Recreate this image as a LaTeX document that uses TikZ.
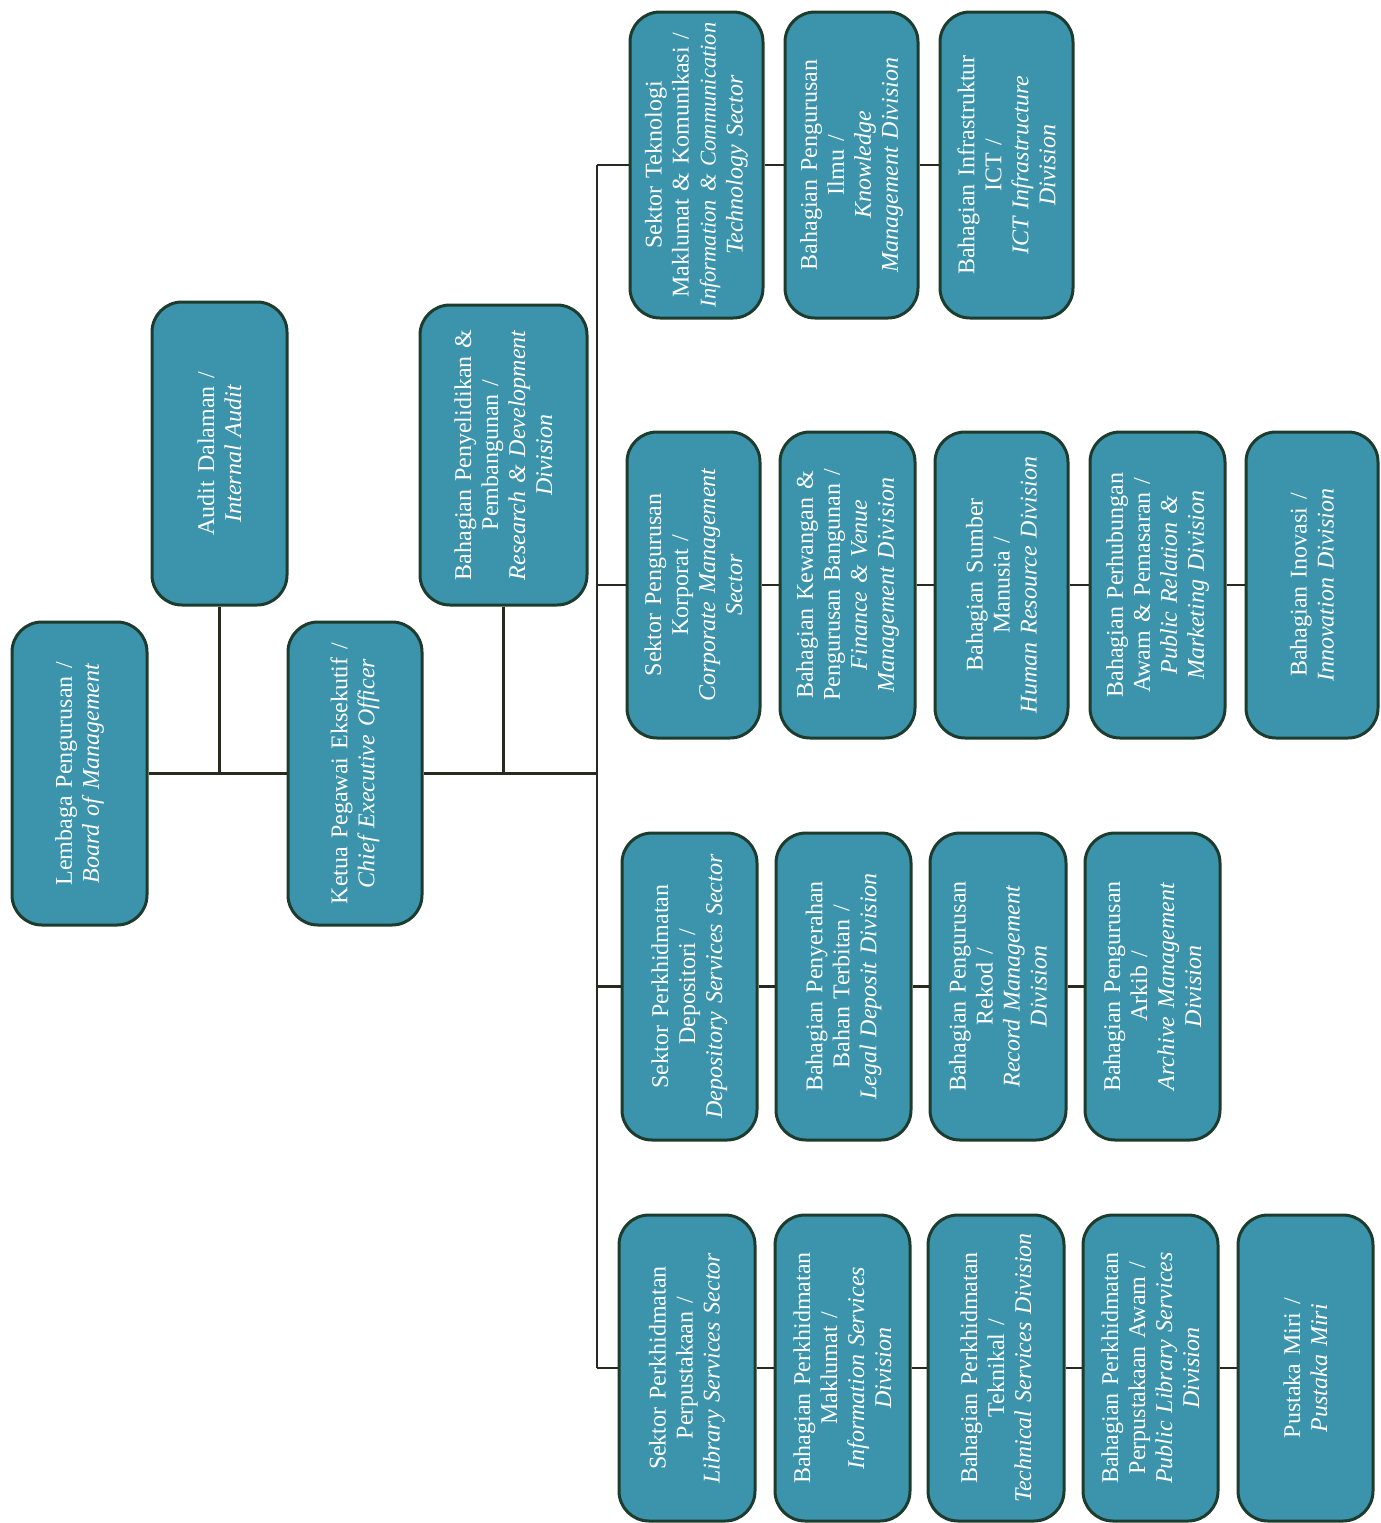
\documentclass[tikz,border=0pt]{standalone}
\usepackage{fontspec}
\setmainfont{Liberation Serif}
\definecolor{tealc}{RGB}{59,147,172}
\definecolor{bordc}{RGB}{30,60,45}
\definecolor{linec}{RGB}{40,42,32}
\tikzset{
  orgbox/.style={rectangle, rounded corners=30pt, draw=bordc, line width=3pt,
    fill=tealc, text=white, rotate=90, align=center, inner sep=0pt,
    text width=292pt, font=\fontsize{24}{27}\selectfont},
  conn/.style={draw=linec, line width=2.6pt}
}
\begin{document}
\begin{tikzpicture}[x=1pt,y=-1pt]
\useasboundingbox (0,0) rectangle (1381,1523);
% trunk coordinates
\coordinate (t1) at (597,165);
\coordinate (t2) at (597,585);
\coordinate (t3) at (597,986.5);
\coordinate (t4) at (597,1368);
% left group
\node[orgbox, minimum width=303, minimum height=135] (lem) at (79.5,773.5)
  {Lembaga Pengurusan /\\\textit{Board of Management}};
\node[orgbox, minimum width=303, minimum height=135] (audit) at (219.5,453.5)
  {Audit Dalaman /\\\textit{Internal Audit}};
\node[orgbox, minimum width=303, minimum height=134] (ceo) at (355,773.5)
  {Ketua Pegawai Eksekutif /\\\textit{Chief Executive Officer}};
\node[orgbox, minimum width=300, minimum height=167] (rnd) at (503.5,455)
  {Bahagian Penyelidikan \&\\Pembangunan /\\\textit{Research \& Development}\\\textit{Division}};
% row 1
\node[orgbox, minimum width=306, minimum height=133] (ict) at (696.5,165)
  {Sektor Teknologi\\Maklumat \& Komunikasi /\\{\fontsize{22.5}{27}\selectfont\textit{Information \& Communication}}\\\textit{Technology Sector}};
\node[orgbox, minimum width=306, minimum height=133] (km) at (851.5,165)
  {Bahagian Pengurusan\\Ilmu /\\\textit{Knowledge}\\\textit{Management Division}};
\node[orgbox, minimum width=306, minimum height=133] (infra) at (1006.5,165)
  {Bahagian Infrastruktur\\ICT /\\\textit{ICT Infrastructure}\\\textit{Division}};
% row 2
\node[orgbox, minimum width=306, minimum height=133] (corp) at (693.5,585)
  {Sektor Pengurusan\\Korporat /\\\textit{Corporate Management}\\\textit{Sector}};
\node[orgbox, minimum width=306, minimum height=135] (fin) at (847.5,585)
  {Bahagian Kewangan \&\\Pengurusan Bangunan /\\\textit{Finance \& Venue}\\\textit{Management Division}};
\node[orgbox, minimum width=306, minimum height=133] (hr) at (1001.5,585)
  {Bahagian Sumber\\Manusia /\\\textit{Human Resource Division}};
\node[orgbox, minimum width=306, minimum height=135] (pr) at (1157.5,585)
  {Bahagian Perhubungan\\Awam \& Pemasaran /\\\textit{Public Relation \&}\\\textit{Marketing Division}};
\node[orgbox, minimum width=306, minimum height=132] (ino) at (1312,585)
  {Bahagian Inovasi /\\\textit{Innovation Division}};
% row 3
\node[orgbox, minimum width=307, minimum height=135] (dep) at (689.5,986.5)
  {Sektor Perkhidmatan\\Depositori /\\\textit{Depository Services Sector}};
\node[orgbox, minimum width=307, minimum height=135] (legal) at (843.5,986.5)
  {Bahagian Penyerahan\\Bahan Terbitan /\\\textit{Legal Deposit Division}};
\node[orgbox, minimum width=307, minimum height=136] (rec) at (998,986.5)
  {Bahagian Pengurusan\\Rekod /\\\textit{Record Management}\\\textit{Division}};
\node[orgbox, minimum width=307, minimum height=135] (arc) at (1152.5,986.5)
  {Bahagian Pengurusan\\Arkib /\\\textit{Archive Management}\\\textit{Division}};
% row 4
\node[orgbox, minimum width=306, minimum height=136] (lib) at (687,1368)
  {Sektor Perkhidmatan\\Perpustakaan /\\\textit{Library Services Sector}};
\node[orgbox, minimum width=306, minimum height=135] (info) at (842.5,1368)
  {Bahagian Perkhidmatan\\Maklumat /\\\textit{Information Services}\\\textit{Division}};
\node[orgbox, minimum width=306, minimum height=136] (tech) at (996,1368)
  {Bahagian Perkhidmatan\\Teknikal /\\\textit{Technical Services Division}};
\node[orgbox, minimum width=306, minimum height=135] (pub) at (1150.5,1368)
  {Bahagian Perkhidmatan\\Perpustakaan Awam /\\\textit{Public Library Services}\\\textit{Division}};
\node[orgbox, minimum width=306, minimum height=135] (miri) at (1305.5,1368)
  {Pustaka Miri /\\\textit{Pustaka Miri}};
% connectors
\draw[conn] (lem) -- (ceo);
\draw[conn] (audit) -- (audit |- lem);
\draw[conn] (ceo) -- (ceo -| t1);
\draw[conn] (rnd) -- (rnd |- ceo);
\draw[conn] (t1) -- (t4);
\draw[conn] (t1) -- (ict);
\draw[conn] (t2) -- (corp);
\draw[conn] (t3) -- (dep);
\draw[conn] (t4) -- (lib);
\draw[conn] (ict) -- (km);
\draw[conn] (km) -- (infra);
\draw[conn] (corp) -- (fin);
\draw[conn] (fin) -- (hr);
\draw[conn] (hr) -- (pr);
\draw[conn] (pr) -- (ino);
\draw[conn] (dep) -- (legal);
\draw[conn] (legal) -- (rec);
\draw[conn] (rec) -- (arc);
\draw[conn] (lib) -- (info);
\draw[conn] (info) -- (tech);
\draw[conn] (tech) -- (pub);
\draw[conn] (pub) -- (miri);
\end{tikzpicture}
\end{document}
